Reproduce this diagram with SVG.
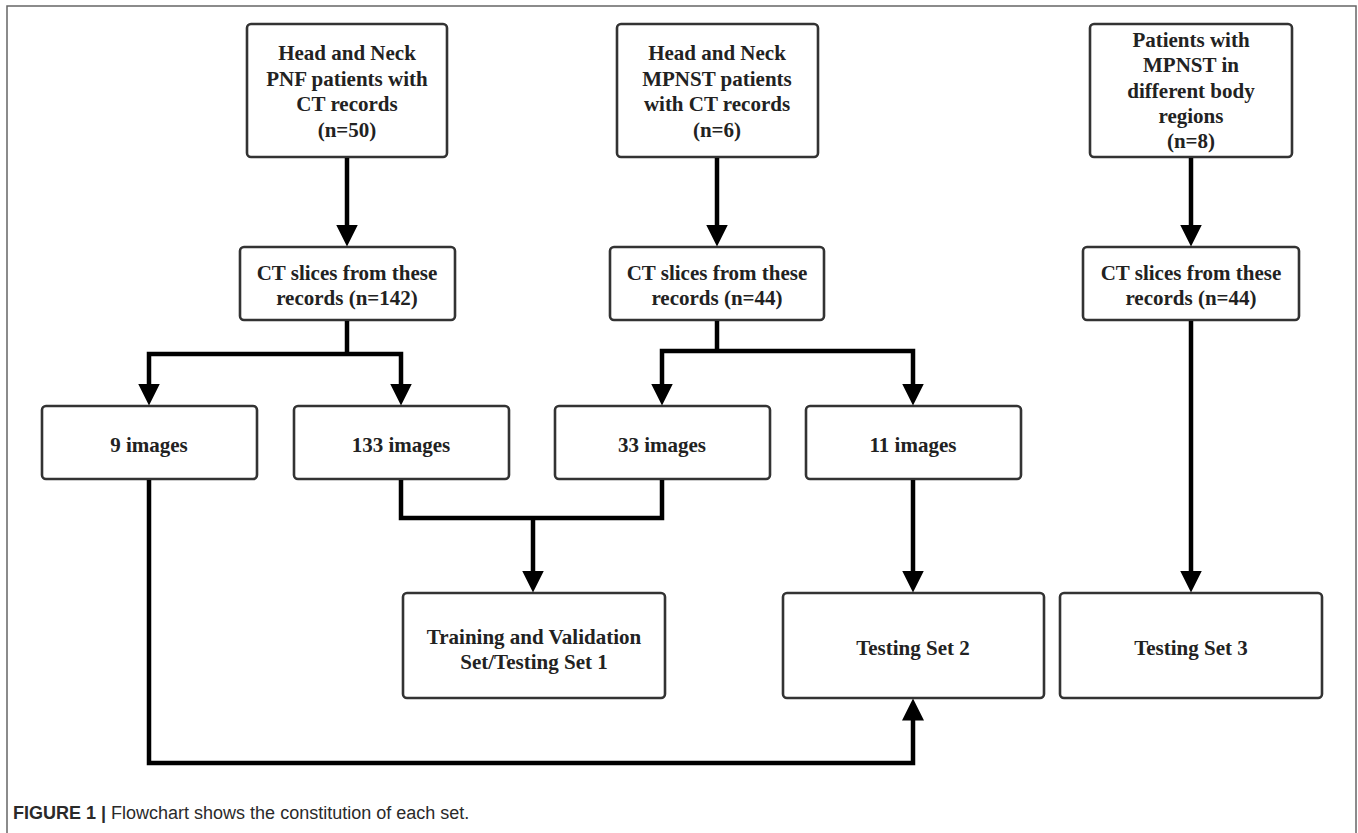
<svg xmlns="http://www.w3.org/2000/svg" width="1358" height="833" viewBox="0 0 1358 833">
<style>
.box{fill:#fff;stroke:#333;stroke-width:2.6}
.t{font-family:"Liberation Serif","Times New Roman",serif;font-weight:bold;font-size:21px;fill:#222;text-anchor:middle}
.c{fill:none;stroke:#000;stroke-width:4.5;stroke-linejoin:miter}
.cap{font-family:"Liberation Sans",Arial,sans-serif;font-size:18px;fill:#2a2a2a}
</style>
<defs>
<marker id="ah" viewBox="0 0 22 22" markerWidth="22" markerHeight="22" markerUnits="userSpaceOnUse" refX="0.5" refY="11" orient="auto">
<path d="M0,0 L22,11 L0,22 z" fill="#000"/>
</marker>
</defs>
<rect x="7" y="6" width="1349" height="840" fill="#fff" stroke="#666" stroke-width="1.5"/>
<g id="n1"><rect class="box" x="247" y="24" width="200" height="133" rx="4"/>
<text class="t" x="347" y="60">Head and Neck</text><text class="t" x="347" y="86">PNF patients with</text><text class="t" x="347" y="111">CT records</text><text class="t" x="347" y="137">(n=50)</text></g>
<g id="n2"><rect class="box" x="617" y="24" width="201" height="133" rx="4"/>
<text class="t" x="717" y="60">Head and Neck</text><text class="t" x="717" y="86">MPNST patients</text><text class="t" x="717" y="111">with CT records</text><text class="t" x="717" y="137">(n=6)</text></g>
<g id="n3"><rect class="box" x="1090" y="24" width="202" height="133" rx="4"/>
<text class="t" x="1191" y="47">Patients with</text><text class="t" x="1191" y="72">MPNST in</text><text class="t" x="1191" y="98">different body</text><text class="t" x="1191" y="123">regions</text><text class="t" x="1191" y="148">(n=8)</text></g>
<g id="c1"><rect class="box" x="240" y="247" width="215" height="73" rx="4"/>
<text class="t" x="347" y="280">CT slices from these</text><text class="t" x="347" y="305">records (n=142)</text></g>
<g id="c2"><rect class="box" x="610" y="247" width="214" height="73" rx="4"/>
<text class="t" x="717" y="280">CT slices from these</text><text class="t" x="717" y="305">records (n=44)</text></g>
<g id="c3"><rect class="box" x="1083" y="247" width="216" height="73" rx="4"/>
<text class="t" x="1191" y="280">CT slices from these</text><text class="t" x="1191" y="305">records (n=44)</text></g>
<g id="i1"><rect class="box" x="42" y="406" width="215" height="73" rx="4"/><text class="t" x="149" y="452">9 images</text></g>
<g id="i2"><rect class="box" x="294" y="406" width="215" height="73" rx="4"/><text class="t" x="401" y="452">133 images</text></g>
<g id="i3"><rect class="box" x="555" y="406" width="215" height="73" rx="4"/><text class="t" x="662" y="452">33 images</text></g>
<g id="i4"><rect class="box" x="806" y="406" width="215" height="73" rx="4"/><text class="t" x="913" y="452">11 images</text></g>
<g id="t1"><rect class="box" x="403" y="593" width="262" height="105" rx="4"/>
<text class="t" x="534" y="644">Training and Validation</text><text class="t" x="534" y="669">Set/Testing Set 1</text></g>
<g id="t2"><rect class="box" x="783" y="593" width="261" height="105" rx="4"/><text class="t" x="913" y="655">Testing Set 2</text></g>
<g id="t3"><rect class="box" x="1060" y="593" width="262" height="105" rx="4"/><text class="t" x="1191" y="655">Testing Set 3</text></g>
<g id="connectors">
<path class="c" d="M347,158 V225" marker-end="url(#ah)"/>
<path class="c" d="M717,158 V225" marker-end="url(#ah)"/>
<path class="c" d="M1191,158 V225" marker-end="url(#ah)"/>
<path class="c" d="M347,321 V354"/>
<path class="c" d="M347,354 H149 V384" marker-end="url(#ah)"/>
<path class="c" d="M347,354 H401 V384" marker-end="url(#ah)"/>
<path class="c" d="M717,321 V351"/>
<path class="c" d="M717,351 H662 V384" marker-end="url(#ah)"/>
<path class="c" d="M717,351 H913 V384" marker-end="url(#ah)"/>
<path class="c" d="M1191,321 V571" marker-end="url(#ah)"/>
<path class="c" d="M401,480 V518 H662 V480"/>
<path class="c" d="M533,518 V571" marker-end="url(#ah)"/>
<path class="c" d="M913,480 V571" marker-end="url(#ah)"/>
<path class="c" d="M149,480 V763 H913 V720" marker-end="url(#ah)"/>
</g>
<text class="cap" x="13" y="819"><tspan font-weight="bold">FIGURE 1 |</tspan> Flowchart shows the constitution of each set.</text>
</svg>
